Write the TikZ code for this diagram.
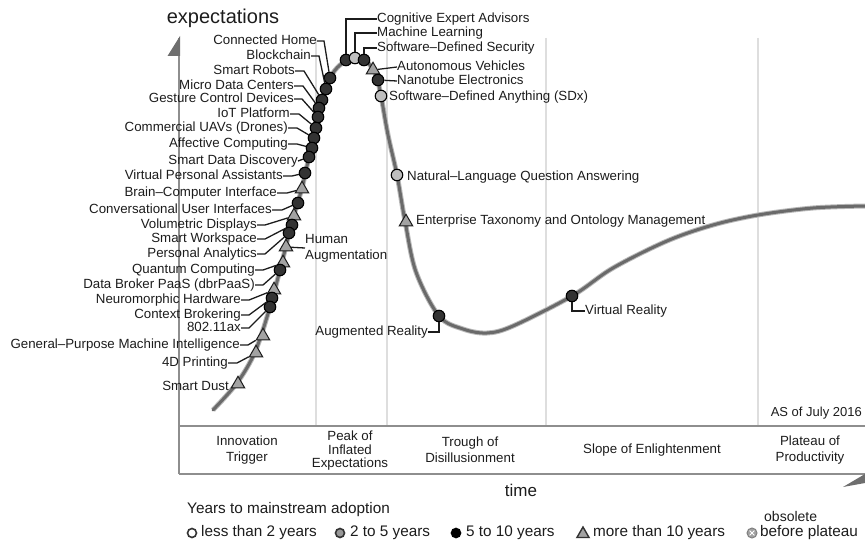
\documentclass[tikz,border=0pt]{standalone}
\usepackage{fontspec}
\setmainfont{Liberation Sans}
\usetikzlibrary{shapes.geometric}

\definecolor{curvegray}{HTML}{6A6A6A}
\definecolor{halogray}{HTML}{B8B8B8}
\definecolor{gridgray}{HTML}{DEDEDE}
\definecolor{axisgray}{HTML}{8E8E8E}
\definecolor{axisdark}{HTML}{6E6E6E}
\definecolor{ink}{HTML}{1C1C1C}
\definecolor{darkdot}{HTML}{333333}
\definecolor{lightdot}{HTML}{BEBEBE}
\definecolor{trifill}{HTML}{A3A3A3}

\tikzset{
  lbl/.style={inner sep=0pt, text=ink, font=\fontsize{13.3}{14}\selectfont,
              text height=9.6pt, text depth=2.8pt},
  stagelbl/.style={inner sep=0pt, text=ink, align=center, font=\fontsize{13.3}{16}\selectfont},
  legtxt/.style={inner sep=0pt, text=ink, font=\fontsize{15.3}{17}\selectfont,
                 text height=11pt, text depth=3.2pt},
  conn/.style={draw=ink, line width=1.3pt},
  dk/.style={circle, draw=black, line width=1.1pt, fill=darkdot, minimum size=11.5pt, inner sep=0pt},
  lt/.style={dk, fill=lightdot},
  tri/.style={regular polygon, regular polygon sides=3, draw=ink, line width=1pt,
              fill=trifill, minimum size=15.5pt, inner sep=0pt},
  gridline/.style={draw=gridgray, line width=2pt},
  axisline/.style={draw=axisgray, line width=2pt},
  legmk/.style={circle, draw=darkdot, line width=1.6pt, minimum size=9pt, inner sep=0pt},
}

\begin{document}
\begin{tikzpicture}[x=1pt, y=-1pt]
\useasboundingbox (0,0) rectangle (865,543);

% phase separators
\draw[gridline] (316,38) -- (316,426);
\draw[gridline] (387,38) -- (387,426);
\draw[gridline] (546,38) -- (546,426);
\draw[gridline] (758,38) -- (758,426);

% axes and phase band
\draw[axisline] (179,38) -- (179,474);
\fill[axisdark] (180,36) -- (167.5,56) -- (180,56) -- cycle;
\draw[axisline] (179,426) -- (865,426);
\draw[axisline] (179,474) -- (865,474);
\fill[axisdark] (843,487) -- (865,474) -- (865,483) -- cycle;

% hype curve
\draw[curvegray, line width=3pt, line cap=round, preaction={draw=halogray, line width=5pt}]
  plot[smooth, tension=0.55] coordinates {
    (213,410) (237,383) (255,352) (270,307) (282,262) (292,222) (302,188)
    (309,157) (316,128) (322,100) (330,78) (340,65) (355,57) (367,62)
    (376,75) (381,96) (388,135) (397,175) (405,221) (416,272) (439,316)
    (463,329) (487,333) (513,326) (572,296) (613,268) (667,241) (713,225)
    (758,215) (813,208) (865,206)};

% technology markers
\node[dk]  (cha)  at (330,78)  {};
\node[dk]  (blk)  at (326,89)  {};
\node[dk]  (rob)  at (322,100) {};
\node[dk]  (mdc)  at (319,108) {};
\node[dk]  (gcd)  at (318,117) {};
\node[dk]  (iot)  at (316,128) {};
\node[dk]  (uav)  at (314,138) {};
\node[dk]  (aff)  at (312,148) {};
\node[dk]  (sdd)  at (309,157) {};
\node[dk]  (vpa)  at (305,173) {};
\node[tri] (bci)  at (302,189) {};
\node[dk]  (cui)  at (298,203) {};
\node[tri] (vol)  at (294,216) {};
\node[dk]  (sws)  at (292,225) {};
\node[dk]  (pan)  at (289,233) {};
\node[tri] (hum)  at (286,247) {};
\node[tri] (qc)   at (283,263) {};
\node[dk]  (dbr)  at (280,270) {};
\node[tri] (neu)  at (274,290) {};
\node[dk]  (ctx)  at (272,298) {};
\node[dk]  (wax)  at (270,307) {};
\node[tri] (gpmi) at (263,336) {};
\node[tri] (pr4)  at (256,353) {};
\node[tri] (dust) at (238,384) {};
\node[dk]  (cea)  at (346,60)  {};
\node[lt]  (ml)   at (355,58)  {};
\node[dk]  (sds)  at (364,60)  {};
\node[tri] (av)   at (373,70)  {};
\node[dk]  (nano) at (378,80)  {};
\node[lt]  (sdx)  at (381,96)  {};
\node[lt]  (nlq)  at (397,175) {};
\node[tri] (eto)  at (406,222) {};
\node[dk]  (ar)   at (439,316) {};
\node[dk]  (vr)   at (572,296) {};

% labels on the rising slope
\node[lbl, anchor=east] (tcha)  at (317,41)  {Connected Home};
\node[lbl, anchor=east] (tblk)  at (311,56)  {Blockchain};
\node[lbl, anchor=east] (trob)  at (295,71)  {Smart Robots};
\node[lbl, anchor=east] (tmdc)  at (294,86)  {Micro Data Centers};
\node[lbl, anchor=east] (tgcd)  at (294,99)  {Gesture Control Devices};
\node[lbl, anchor=east] (tiot)  at (290,114) {IoT Platform};
\node[lbl, anchor=east] (tuav)  at (288,128) {Commercial UAVs (Drones)};
\node[lbl, anchor=east] (taff)  at (288,144) {Affective Computing};
\node[lbl, anchor=east] (tsdd)  at (298,161) {Smart Data Discovery};
\node[lbl, anchor=east] (tvpa)  at (283,176) {Virtual Personal Assistants};
\node[lbl, anchor=east] (tbci)  at (277,193) {Brain–Computer Interface};
\node[lbl, anchor=east] (tcui)  at (272,210) {Conversational User Interfaces};
\node[lbl, anchor=east] (tvol)  at (257,225) {Volumetric Displays};
\node[lbl, anchor=east] (tsws)  at (257,239) {Smart Workspace};
\node[lbl, anchor=east] (tpan)  at (257,254) {Personal Analytics};
\node[lbl, anchor=east] (tqc)   at (255,270) {Quantum Computing};
\node[lbl, anchor=east] (tdbr)  at (255,285) {Data Broker PaaS (dbrPaaS)};
\node[lbl, anchor=east] (tneu)  at (241,300) {Neuromorphic Hardware};
\node[lbl, anchor=east] (tctx)  at (241,315) {Context Brokering};
\node[lbl, anchor=east] (twax)  at (241,328) {802.11ax};
\node[lbl, anchor=east] (tgpmi) at (240,345) {General–Purpose Machine Intelligence};
\node[lbl, anchor=east] (tpr4)  at (228,363) {4D Printing};
\node[lbl, anchor=east] (tdust) at (229,387) {Smart Dust};
\node[inner sep=0pt, text=ink, align=left, anchor=west, font=\fontsize{13.3}{16}\selectfont]
  (thum) at (305,248) {Human\\Augmentation};

% labels around the peak and beyond
\node[lbl, anchor=west] (tcea)  at (377,19)  {Cognitive Expert Advisors};
\node[lbl, anchor=west] (tml)   at (377,33)  {Machine Learning};
\node[lbl, anchor=west] (tsds)  at (377,48)  {Software–Defined Security};
\node[lbl, anchor=west] (tav)   at (397,67)  {Autonomous Vehicles};
\node[lbl, anchor=west] (tnano) at (397,81)  {Nanotube Electronics};
\node[lbl, anchor=west] (tsdx)  at (389,97)  {Software–Defined Anything (SDx)};
\node[lbl, anchor=west] (tnlq)  at (407,177) {Natural–Language Question Answering};
\node[lbl, anchor=west] (teto)  at (416,221) {Enterprise Taxonomy and Ontology Management};
\node[lbl, anchor=east] (tar)   at (428,332) {Augmented Reality};
\node[lbl, anchor=west] (tvr)   at (585,311) {Virtual Reality};

% leader lines
\draw[conn] (tcha.east) -- ++(7,0) -- (cha);
\draw[conn] (tblk.east) -- ++(8,0) -- (blk);
\draw[conn] (trob.east) -- ++(9,0) -- (rob);
\draw[conn] (tmdc.east) -- ++(9,0) -- (mdc);
\draw[conn] (tgcd.east) -- ++(8,0) -- (gcd);
\draw[conn] (tiot.east) -- ++(9,0) -- (iot);
\draw[conn] (tuav.east) -- ++(9,0) -- (uav);
\draw[conn] (taff.east) -- ++(9,0) -- (aff);
\draw[conn] (tsdd.east) -- (sdd);
\draw[conn] (tvpa.east) -- ++(9,0) -- (vpa);
\draw[conn] (tbci.east) -- ++(10,0) -- (bci);
\draw[conn] (tcui.east) -- ++(10,0) -- (cui);
\draw[conn] (tvol.east) -- ++(8,0) -- (vol);
\draw[conn] (tsws.east) -- ++(8,0) -- (sws);
\draw[conn] (tpan.east) -- ++(8,0) -- (pan);
\draw[conn] (tqc.east)  -- ++(8,0) -- (qc);
\draw[conn] (tdbr.east) -- ++(8,0) -- (dbr);
\draw[conn] (tneu.east) -- ++(8,0) -- (neu);
\draw[conn] (tctx.east) -- ++(8,0) -- (ctx);
\draw[conn] (twax.east) -- ++(8,0) -- (wax);
\draw[conn] (tgpmi.east) -- ++(8,0) -- (gpmi);
\draw[conn] (tpr4.east) -- ++(9,0) -- (pr4);
\draw[conn] (hum) -- (thum.west);
\draw[conn] (tcea.west) -| (cea);
\draw[conn] (tml.west) -| (ml);
\draw[conn] (tsds.west) -| (sds);
\draw[conn] (av) -- (tav.west);
\draw[conn] (nano) -- (tnano.west);
\draw[conn] (tar.east) -| (ar);
\draw[conn] (vr) |- (tvr.west);

% axis titles and notes
\node[inner sep=0pt, text=ink, font=\fontsize{20}{22}\selectfont] (ytitle) at (223,18) {expectations};
\node[inner sep=0pt, text=ink, font=\fontsize{17}{19}\selectfont] (xtitle) at (521,490) {time};
\node[inner sep=0pt, text=ink, font=\fontsize{13}{14}\selectfont, anchor=east] (asof) at (862,413) {AS of July 2016};

% phase names
\node[stagelbl] (ph1) at (247,450) {Innovation\\Trigger};
\node[stagelbl, font=\fontsize{13.3}{13.5}\selectfont] (ph2) at (350,451) {Peak of\\Inflated\\Expectations};
\node[stagelbl] (ph3) at (470,450) {Trough of\\Disillusionment};
\node[stagelbl] (ph4) at (652,450) {Slope of Enlightenment};
\node[stagelbl] (ph5) at (810,450) {Plateau of\\Productivity};

% legend
\node[legtxt, anchor=west] (legtitle) at (187,510) {Years to mainstream adoption};
\node[legmk, fill=white] (k1) at (192,533) {};
\node[legtxt, anchor=west] (k1t) at (201,533) {less than 2 years};
\node[legmk, fill=lightdot!80!black] (k2) at (340,533) {};
\node[legtxt, anchor=west] (k2t) at (350,533) {2 to 5 years};
\node[legmk, fill=black, draw=black] (k3) at (456,533) {};
\node[legtxt, anchor=west] (k3t) at (466,533) {5 to 10 years};
\node[regular polygon, regular polygon sides=3, draw=darkdot, line width=1.4pt, fill=trifill,
      minimum size=14pt, inner sep=0pt] (k4) at (583,534) {};
\node[legtxt, anchor=west] (k4t) at (593,533) {more than 10 years};
\node[circle, draw=gray, line width=1pt, fill=lightdot!85!black, minimum size=10pt, inner sep=0pt,
      path picture={\draw[white, line width=0.9pt]
        ([shift={(-2.4pt,-2.4pt)}]path picture bounding box.center) -- ([shift={(2.4pt,2.4pt)}]path picture bounding box.center)
        ([shift={(-2.4pt,2.4pt)}]path picture bounding box.center) -- ([shift={(2.4pt,-2.4pt)}]path picture bounding box.center);}]
  (k5) at (752,533) {};
\node[inner sep=0pt, text=ink, font=\fontsize{14}{15}\selectfont, anchor=west] (k5a) at (764,516) {obsolete};
\node[legtxt, anchor=west] (k5b) at (760,533) {before plateau};
\end{tikzpicture}
\end{document}
